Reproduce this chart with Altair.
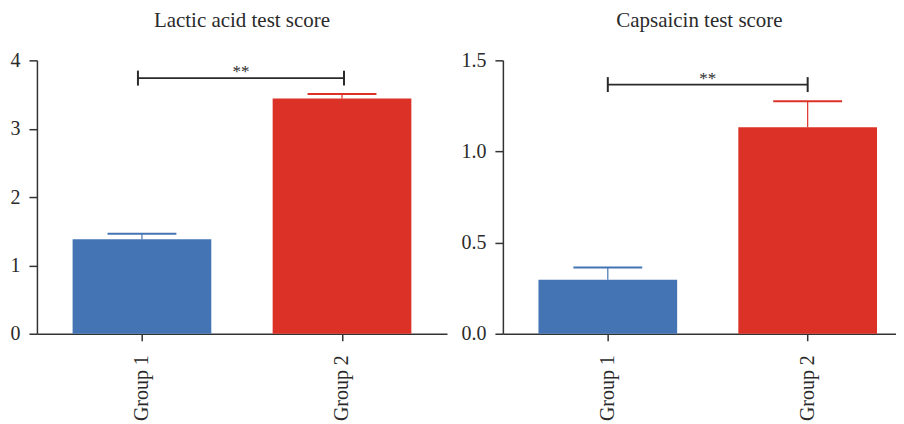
import altair as alt
import pandas as pd

groups = ["Group 1", "Group 2"]
positions = [1, 2]
colors = ["#4474b4", "#dc3127"]

lactic_mean = [1.382, 3.441]
lactic_err = [0.082, 0.067]
caps_mean = [0.296, 1.133]
caps_err = [0.067, 0.142]

lactic_bracket_x = [0.98, 2.01]
lactic_bracket_y = 3.74
caps_bracket_x = [1.0, 2.0]
caps_bracket_y = 1.367
stars = "**"

FONT = "Liberation Serif"
DARK = "#2a2a2a"


def panel(title, means, errs, ymax, yticks, yfmt, xdomain, width, bx, by):
    df = pd.DataFrame({
        "pos": positions,
        "group": groups,
        "mean": means,
        "top": [m + e for m, e in zip(means, errs)],
    })
    br = pd.DataFrame({"x1": [bx[0]], "x2": [bx[1]], "y": [by], "mid": [(bx[0] + bx[1]) / 2], "t": [stars]})
    ends = pd.DataFrame({"x": bx, "y": [by, by]})

    xs = alt.Scale(domain=xdomain, nice=False, zero=False)
    ys = alt.Scale(domain=[0, ymax], nice=False, zero=True)
    color = alt.Color("group:N", scale=alt.Scale(domain=groups, range=colors), legend=None)
    label_expr = "[" + ",".join("'" + g + "'" for g in groups) + "][datum.value - 1]"

    xax = alt.X("pos:Q", scale=xs, axis=alt.Axis(
        values=positions, labelExpr=label_expr, labelAngle=-90, title=None, grid=False,
        tickSize=7, labelPadding=14, labelFontSize=20))
    yax = alt.Y("mean:Q", scale=ys, axis=alt.Axis(
        values=yticks, format=yfmt, title=None, grid=False, tickSize=8, labelPadding=9,
        labelFontSize=20))

    base = alt.Chart(df)
    bars = base.mark_bar(size=139, opacity=1).encode(x=xax, y=yax, color=color)
    stem = base.mark_rule(strokeWidth=1.2, opacity=1).encode(
        x=alt.X("pos:Q", scale=xs), y=alt.Y("mean:Q", scale=ys), y2="top:Q", color=color)
    caps = base.mark_tick(orient="horizontal", size=69, thickness=2, opacity=1).encode(
        x=alt.X("pos:Q", scale=xs), y=alt.Y("top:Q", scale=ys), color=color)

    line = alt.Chart(br).mark_rule(color=DARK, strokeWidth=1.6, opacity=1).encode(
        x=alt.X("x1:Q", scale=xs), x2="x2:Q", y=alt.Y("y:Q", scale=ys))
    endt = alt.Chart(ends).mark_tick(orient="vertical", size=15, thickness=2, color=DARK, opacity=1).encode(
        x=alt.X("x:Q", scale=xs), y=alt.Y("y:Q", scale=ys))
    txt = alt.Chart(br).mark_text(fontSize=17, font=FONT, baseline="alphabetic", dy=-1,
                                  color=DARK, fill=DARK).encode(
        x=alt.X("mid:Q", scale=xs), y=alt.Y("y:Q", scale=ys), text="t:N")

    return alt.layer(bars, stem, caps, line, endt, txt).properties(
        width=width, height=274,
        title=alt.TitleParams(title, fontSize=21, font=FONT, fontWeight="normal", color=DARK,
                              anchor="middle", frame="group", offset=19),
    )


left = panel("Lactic acid test score", lactic_mean, lactic_err, 4, [0, 1, 2, 3, 4], "d",
             [0.5, 2.5], 411, lactic_bracket_x, lactic_bracket_y)
right = panel("Capsaicin test score", caps_mean, caps_err, 1.5, [0, 0.5, 1.0, 1.5], ".1f",
              [0.5, 2.417], 394, caps_bracket_x, caps_bracket_y)

chart = alt.hconcat(left, right, spacing=14).properties(
    padding={"left": 2, "top": 2, "right": 0, "bottom": 0}
).configure_view(stroke=None).configure_axis(
    domainColor="#333", tickColor="#333", domainWidth=1.5, tickWidth=1.5,
    labelFont=FONT, labelColor=DARK,
).configure_concat(spacing=14)

chart.save("out.html", embed_options={"renderer": "svg", "actions": False})
